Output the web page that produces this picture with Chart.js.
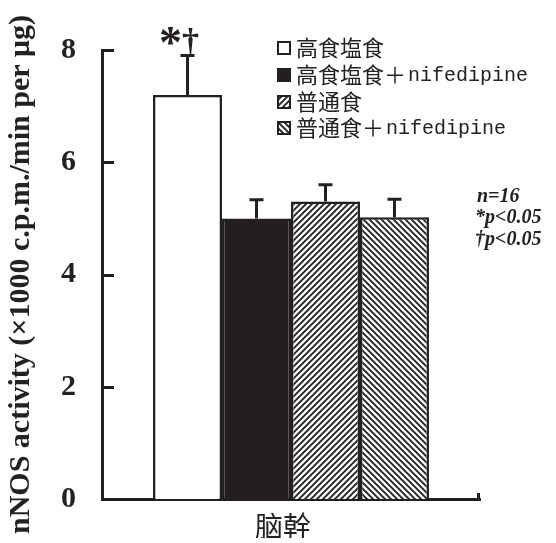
<!DOCTYPE html>
<html>
<head>
<meta charset="utf-8">
<script src="https://cdn.jsdelivr.net/npm/chart.js@4.4.1/dist/chart.umd.min.js"></script>
<style>
  html, body { margin: 0; padding: 0; background: #fff; }
  #wrap { width: 556px; height: 543px; }
</style>
</head>
<body>
<div id="wrap"><canvas id="c" width="556" height="543"></canvas></div>
<script>
// nNOS activity in the brainstem, four diet groups
const categories = ['脑幹'];
const groupLabels = ['高食塩食', '高食塩食＋nifedipine', '普通食', '普通食＋nifedipine'];
const means = [7.2, 5.0, 5.3, 5.02];
const errors = [0.7, 0.33, 0.3, 0.32];
const yTicks = [0, 2, 4, 6, 8];
const notes = ['n=16', '*p<0.05', '†p<0.05'];
const yTitle = 'nNOS activity (×1000 c.p.m./min per μg)';

const INK = '#231f20';

function hatch(dir) {
  const s = 6;
  const c = document.createElement('canvas');
  c.width = s; c.height = s;
  const g = c.getContext('2d');
  g.fillStyle = '#fff';
  g.fillRect(0, 0, s, s);
  g.strokeStyle = INK;
  g.lineWidth = 1.9;
  g.beginPath();
  if (dir === '/') {
    g.moveTo(0, s); g.lineTo(s, 0);
    g.moveTo(-1, 1); g.lineTo(1, -1);
    g.moveTo(s - 1, s + 1); g.lineTo(s + 1, s - 1);
  } else {
    g.moveTo(0, 0); g.lineTo(s, s);
    g.moveTo(-1, s - 1); g.lineTo(1, s + 1);
    g.moveTo(s - 1, -1); g.lineTo(s + 1, 1);
  }
  g.stroke();
  return g.createPattern(c, 'repeat');
}

const fills = ['#ffffff', INK, hatch('/'), hatch('\\')];

const datasets = groupLabels.map((lab, i) => ({
  label: lab,
  data: [means[i]],
  err: [errors[i]],
  backgroundColor: fills[i],
  borderColor: INK,
  borderWidth: 2.5,
  borderSkipped: 'start'
}));

// error bars, inward y ticks, axis end tick, significance marks
const decorations = {
  id: 'decorations',
  afterDatasetsDraw(chart) {
    const ctx = chart.ctx;
    const y = chart.scales.y;
    ctx.save();
    ctx.strokeStyle = INK;
    ctx.lineWidth = 3;
    chart.data.datasets.forEach((ds, i) => {
      const meta = chart.getDatasetMeta(i);
      meta.data.forEach((el, j) => {
        const top = y.getPixelForValue(ds.data[j] + ds.err[j]);
        ctx.beginPath();
        ctx.moveTo(el.x, el.y);
        ctx.lineTo(el.x, top);
        ctx.moveTo(el.x - 7, top);
        ctx.lineTo(el.x + 7, top);
        ctx.stroke();
      });
    });
    ctx.restore();
  },
  afterDraw(chart) {
    const ctx = chart.ctx;
    const y = chart.scales.y;
    const a = chart.chartArea;
    ctx.save();
    ctx.strokeStyle = INK;
    ctx.lineWidth = 3;
    yTicks.forEach(v => {
      const py = Math.round(y.getPixelForValue(v)) + 0.5;
      ctx.beginPath();
      ctx.moveTo(a.left, py);
      ctx.lineTo(a.left + 12, py);
      ctx.stroke();
    });
    // short upturn at the right end of the x axis
    ctx.beginPath();
    ctx.moveTo(a.right - 1.5, a.bottom + 1);
    ctx.lineTo(a.right - 1.5, a.bottom - 6);
    ctx.stroke();

    // significance marks over the first bar
    const el = chart.getDatasetMeta(0).data[0];
    const capY = y.getPixelForValue(means[0] + errors[0]);
    ctx.fillStyle = INK;
    ctx.textBaseline = 'alphabetic';
    ctx.textAlign = 'center';
    ctx.font = 'bold 46px "Liberation Serif"';
    ctx.fillText('*', el.x - 17, capY + 2);
    ctx.font = 'bold 34px "Liberation Serif"';
    ctx.fillText('†', el.x + 3, capY - 4);

    // legend
    const lx = a.left + 175;
    const rows = [48, 75, 102, 128];
    chart.data.datasets.forEach((ds, i) => {
      const ry = rows[i];
      ctx.fillStyle = ds.backgroundColor;
      ctx.fillRect(lx, ry - 7, 14, 14);
      ctx.lineWidth = 2;
      ctx.strokeStyle = INK;
      ctx.strokeRect(lx + 1, ry - 6, 12, 12);
      ctx.fillStyle = '#222';
      ctx.textAlign = 'left';
      ctx.textBaseline = 'middle';
      const parts = ds.label.split('＋');
      ctx.font = '22px "Noto Sans CJK SC"';
      let tx = lx + 19;
      ctx.fillText(parts[0], tx, ry);
      tx += ctx.measureText(parts[0]).width;
      if (parts.length > 1) {
        ctx.fillText('＋', tx, ry);
        tx += ctx.measureText('＋').width + 2;
        ctx.font = '20px "Liberation Mono"';
        ctx.fillText(parts[1], tx, ry + 1);
      }
    });

    // sample size and significance notes
    ctx.fillStyle = '#222';
    ctx.textAlign = 'left';
    ctx.textBaseline = 'middle';
    ctx.font = 'bold italic 20px "Liberation Serif"';
    ctx.fillText(notes[0], a.right - 3, 197);
    ctx.fillText(notes[1], a.right - 5, 218);
    ctx.fillText(notes[2], a.right - 5, 240);
    ctx.restore();
  }
};

new Chart(document.getElementById('c'), {
  type: 'bar',
  data: { labels: categories, datasets },
  options: {
    responsive: false,
    animation: false,
    devicePixelRatio: 1,
    layout: { padding: { top: 50, right: 76, left: 0, bottom: 0 } },
    plugins: { legend: { display: false }, tooltip: { enabled: false } },
    datasets: { bar: { barPercentage: 1, categoryPercentage: 0.73 } },
    scales: {
      x: {
        grid: { display: false, drawTicks: false },
        border: { display: true, width: 3, color: INK },
        ticks: { color: '#222', padding: 11, labelOffset: -8, font: { family: 'Noto Sans CJK SC', size: 28 } },
        afterFit(s) { s.height = 39; }
      },
      y: {
        min: 0, max: 8,
        afterBuildTicks(s) { s.ticks = yTicks.map(v => ({ value: v })); },
        grid: { display: false, drawTicks: false },
        border: { display: true, width: 3, color: INK },
        ticks: { color: '#222', padding: 26, font: { family: 'Liberation Serif', size: 30, weight: 'bold' } },
        title: {
          display: true, text: yTitle, color: '#222',
          font: { family: 'Liberation Serif', size: 30, weight: 'bold' },
          padding: { top: 3, bottom: 0 }
        },
        afterFit(s) { s.width = 102; }
      }
    }
  },
  plugins: [decorations]
});
</script>
</body>
</html>
